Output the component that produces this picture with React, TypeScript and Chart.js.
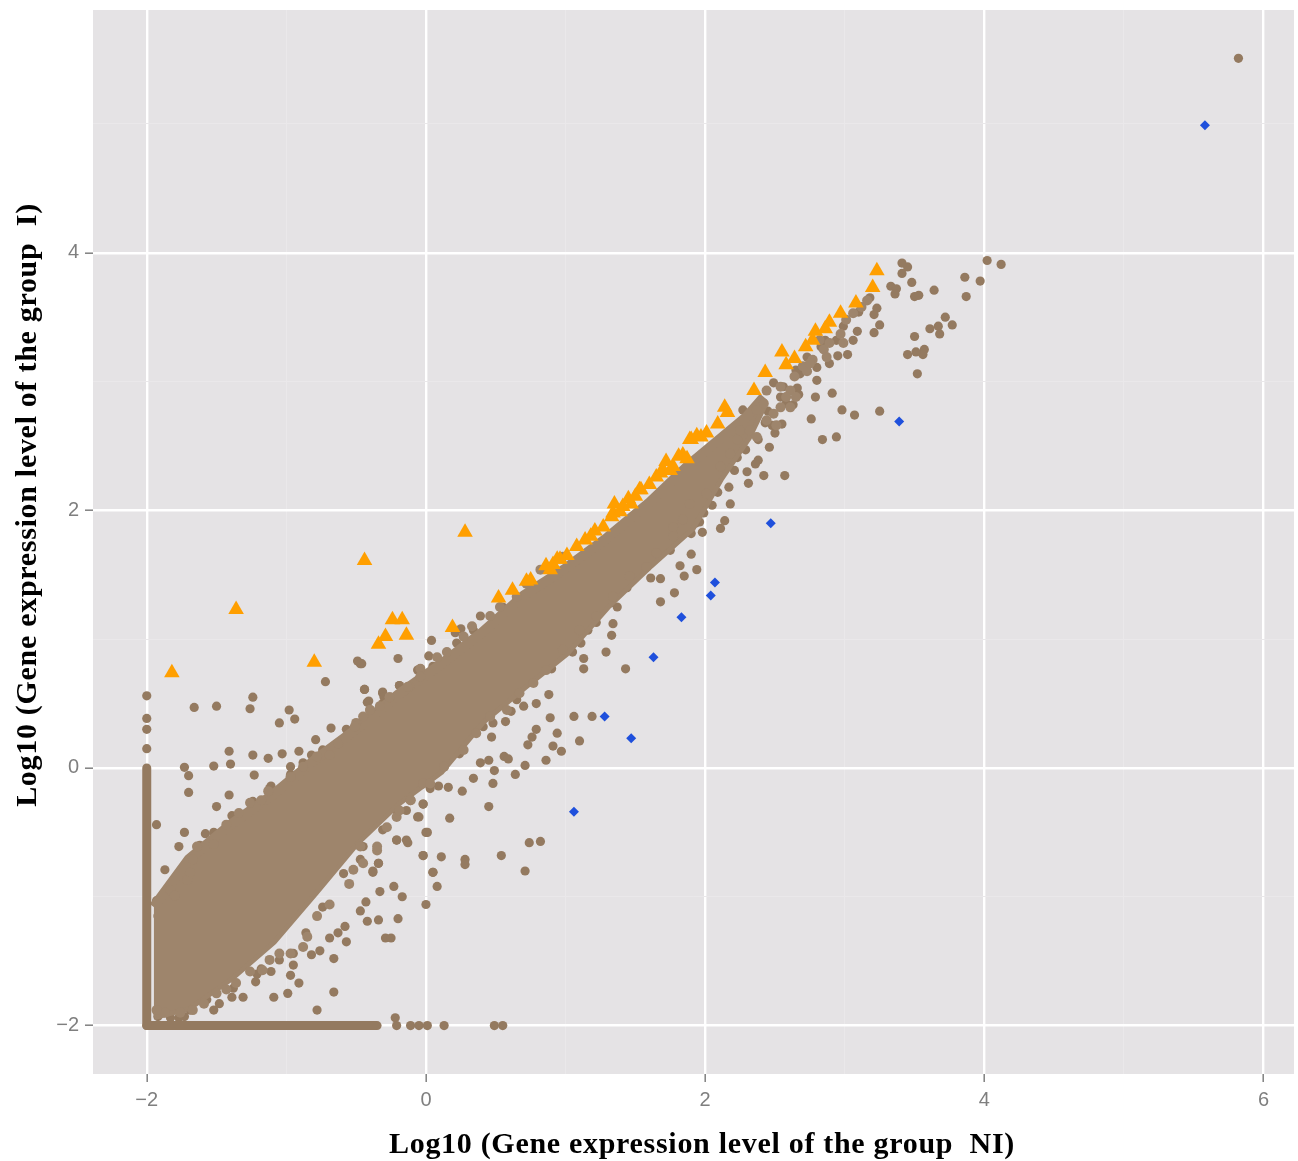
import React, { useEffect, useRef } from "react";
import { Chart, registerables } from "chart.js";

Chart.register(...registerables);

const xTitle = "Log10 (Gene expression level of the group  NI)";
const yTitle = "Log10 (Gene expression level of the group  I)";

// Dense core of the cloud: upper and lower envelope
const cloudX = [-1.95, -1.7, -1.4, -1.1, -0.8, -0.5, -0.2, 0.1, 0.4, 0.7, 1.0, 1.3, 1.6, 1.9, 2.1, 2.3, 2.42];
const cloudUpper = [-1.08, -0.71, -0.44, -0.21, 0.06, 0.3, 0.57, 0.8, 1.05, 1.34, 1.55, 1.79, 2.06, 2.37, 2.55, 2.73, 2.88];
const cloudLower = [-1.92, -1.85, -1.62, -1.34, -0.96, -0.57, -0.26, -0.02, 0.37, 0.64, 0.9, 1.27, 1.58, 1.87, 2.25, 2.57, 2.84];

// Zero-expression strips along the two axes
const stripVX = [-2, -2];
const stripVY = [-2, 0];
const stripHX = [-2, -0.35];
const stripHY = [-2, -2];

const brownX = [
  -2, -2, -2, -2, -1.66, -1.5, -1.24, -1.26, -0.98, -0.94, -1.05, -0.72, -0.44, -0.19, -0.31, -0.47, -0.41,
  -1.41, -1.24, -1.13, -1.03, -0.91, -0.82, -1.4, -1.52, -1.73, -1.7, -1.23, -1.7, -1.41, -1.5, -1.11, -1.24,
  -1.93, -1.73, -1.58, -1.52, -1.39, -1.77, -1.87, -1.77, -1.93, -1.92, -0.68, -0.57, -0.79, -0.97,
  0, -0.02, 0.05, 0.08, -0.23, -0.17, -0.33, 0, -0.2, -0.34, -0.42, -0.47, -0.43, -0.38, -0.34, -0.13, -0.21,
  -0.02, -0.06, -0.29, -0.25, -0.57, -0.63, -0.58, -0.69, -0.76, -0.66, -0.82, -0.95, -0.95, -0.97, -0.91,
  -0.99, -1.09, -0.66, -0.78, -0.22, -1.11, -1.22, -1.31, -1.39, -1.48, -1.52, -1.18, -1.05,
  -0.21, -0.11, -0.05, 0.01, 0.13, 0.49, 0.55,
  0.39, 0.25, 0.21, 0.04, -0.2, -0.49, -0.46, -0.44, -0.31, -0.19, -0.42, -0.04, 0.02,
  1.9, 1.94, 1.82, 1.85, 1.68, 1.61, 1.78, 1.68, 1.37, 1.34, 1.22, 1.33, 1.29, 1.43, 1.05, 1.13, 1.13, 1.11, 1.16,
  0.9, 0.88, 0.79, 0.7, 0.89, 1.06, 1.19, 0.94, 1.1, 0.79, 0.76, 0.73, 0.91, 0.97, 0.86, 0.71, 0.64, 0.56, 0.59,
  0.45, 0.39, 0.49, 0.48, 0.34, 0.26, 0.16, 0.09, 0.45, 0.17, -0.02, -0.05, 0.01, -0.14, -0.21, -0.02, 0.11,
  0.28, 0.28, 0.54, 0.74, 0.82, 0.71, 0.05, -0.34, -0.38, 0.47, 0.48, 0.57, 0.61,
  3.41, 3.45, 3.41, 3.48, 4.02, 4.12, 3.86, 3.97, 3.87, 3.64, 3.33, 3.37, 3.36, 3.5, 3.53, 3.18, 3.1, 3.23, 3.21,
  3.25, 3.21, 3.09, 3.72, 3.77, 3.61, 3.67, 3.68, 3.5, 3.57, 3.56, 3.51, 3.45, 3.52, 3.02, 2.95, 3.06, 2.89, 2.8,
  2.79, 2.91, 2.98, 3.07, 3.25, 2.76, 2.84, 2.94, 2.46, 2.57, 2.42, 2.31, 2.3, 2.21, 2.38, 2.36, 2.29, 2.23,
  2.18, 2.17, 2.09, 2.05, 1.99, 2.14, 2.11, 1.93, 1.96, 1.98, 1.9,
  2.49, 2.56, 2.66, 2.67, 2.58, 2.54, 2.63, 2.45, 2.55, 2.48, 2.5, 2.38, 2.43, 2.27, 2.68, 2.65, 2.73, 2.8,
  2.86, 2.94, 2.99, 2.83, 5.82,
  -1.69, -1.62, -1.38, -1.12, -0.97, -0.88, -0.74, -0.45, -0.31, -0.06, 0.05, -0.45, -0.3, -0.02, 0.22, 0.34, 0.55,
  0.03, -0.14, -0.31, -0.45, -0.47, -0.59, -0.74, -0.86, -1.21, -1.38, -1.57, -1.69, -1.83, -1.77, -1.73, -1.92,
  -0.21, -0.07, 0.24, 0.41, 0.65, 0.84, 1.13, 1.32, 1.44, 1.49, 1.75,
];
const brownY = [
  0.56, 0.385, 0.3, 0.15, 0.47, 0.48, 0.55, 0.46, 0.45, 0.38, 0.35, 0.67, 0.61, 0.64, 0.58, 0.81, 0.52,
  0.13, 0.1, 0.075, 0.11, 0.13, 0.1, 0.03, 0.015, 0.005, -0.06, -0.055, -0.19, -0.21, -0.3, -0.14, -0.26,
  -0.44, -0.5, -0.51, -0.5, -0.37, -0.61, -0.79, -0.86, -1.03, -1.15, 0.31, 0.3, 0.22, 0.01,
  -0.5, -0.68, -0.81, -0.92, -0.92, -1.0, -0.96, -1.06, -1.17, -1.18, -1.19, -1.11, -1.04, -0.81, -0.74, -0.58, -0.56,
  -0.28, -0.38, -1.32, -1.32, -1.35, -1.28, -1.23, -1.32, -1.42, -1.48, -1.45, -1.44, -1.53, -1.61, -1.67,
  -1.75, -1.78, -1.74, -1.88, -1.94, -1.58, -1.66, -1.78, -1.78, -1.83, -1.88, -1.56, -1.49,
  -2, -2, -2, -2, -2, -2, -2,
  1.18, 1.08, 1.05, 0.99, 0.85, 0.83, 0.81, 0.61, 0.59, 0.64, 0.51, 0.77, 0.87,
  1.66, 1.54, 1.57, 1.49, 1.47, 1.475, 1.36, 1.29, 1.25, 1.12, 1.13, 1.03, 0.9, 0.77, 0.9, 0.85, 0.77, 0.97, 1.07,
  0.77, 0.57, 0.5, 0.48, 0.39, 0.4, 0.4, 0.27, 0.21, 0.3, 0.24, 0.18, 0.17, 0.13, 0.06, 0.02, -0.05, 0.09, 0.07,
  0.06, 0.04, -0.02, -0.12, -0.08, -0.18, -0.15, -0.14, -0.3, -0.39, -0.28, -0.38, -0.5, -0.56, -0.56, -0.68, -0.69,
  -0.71, -0.75, -0.68, -0.58, -0.57, -0.8, -0.81, -0.74, -0.8, 0.24, 0.35, 0.36, 0.44,
  3.92, 3.89, 3.84, 3.77, 3.94, 3.91, 3.81, 3.78, 3.66, 3.71, 3.74, 3.72, 3.68, 3.66, 3.67, 3.65, 3.54, 3.57, 3.52,
  3.44, 3.38, 3.39, 3.5, 3.44, 3.41, 3.43, 3.37, 3.35, 3.25, 3.21, 3.23, 3.21, 3.06, 3.21, 3.2, 3.32, 3.14, 3.01,
  2.88, 2.91, 2.78, 2.74, 2.77, 2.71, 2.55, 2.57, 2.49, 2.27, 2.27, 2.21, 2.3, 2.31, 2.39, 2.36, 2.47, 2.41,
  2.05, 2.18, 2.14, 2.04, 1.98, 1.92, 1.86, 1.9, 1.91, 1.83, 1.82,
  2.99, 2.96, 2.95, 2.9, 2.83, 2.88, 2.82, 2.77, 2.67, 2.66, 2.6, 2.55, 2.68, 2.78, 3.06, 3.09, 3.19, 3.11,
  3.32, 3.32, 3.43, 3.27, 5.51,
  -0.71, -0.6, -0.38, -0.16, -0.05, 0.04, 0.14, 0.37, 0.5, 0.76, 0.79, 0.37, 0.55, 0.71, 0.97, 1.07, 1.25,
  -0.16, -0.33, -0.48, -0.61, -0.71, -0.82, -1.08, -1.28, -1.6, -1.71, -1.8, -1.88, -1.94, -1.94, -1.93, -1.93,
  -0.33, -0.15, 0.11, 0.32, 0.53, 0.76, 1.1, 1.28, 1.4, 1.49, 1.69,
];

// Points that make the lumpy edge of the dense band
const edgeX = [
  -1.83, -1.8, -1.71, -1.67, -1.69, -1.64, -1.52, -1.43, -1.34, -1.26, -1.18, -1.13, -0.97, -0.88, -0.78, -0.69, -0.63,
  -0.5, -0.4, -0.26, -0.12, -0.04,
  -0.02, -0.11, -0.21, -0.35, -0.45, -0.52, -0.55, -0.69, -0.78, -0.85, -0.88, -0.97, -1.05, -1.12, -1.17, -1.26, -1.36,
  -1.43, -1.5, -1.59, -1.67, -1.76, -1.87, -1.93,
  -0.51, -0.45, -0.4, -0.33, -0.26, -0.13, -0.04, 0.08, 0.15, 0.27, 0.33, 0.46, 0.53, 0.65, 0.72, 0.82, 0.98,
  -0.47, -0.35, -0.28, -0.19, -0.11, 0.03, 0.13, 0.27, 0.36, 0.46, 0.58, 0.67, 0.77, 0.86, 0.98, 1.1, 1.22, 1.34, 1.46,
  1.58, 1.65, 1.77, 1.84,
  1.77, 1.89, 2.01, 2.11, 2.18, 2.23, 2.32, 2.37, 2.44, 2.25, 2.51, 2.37, 2.42, 2.49, 2.54, 2.61, 2.44, 2.54, 2.61, 2.58,
  2.65, 2.64, 2.73, 2.77, 2.85, 2.89, 2.97, 3.01, 3.06, 3.12, 3.16, 2.7, 2.87, 2.75, 2.99, 2.82,
];
const edgeY = [
  -0.95, -0.99, -0.87, -0.71, -0.81, -0.61, -0.59, -0.44, -0.35, -0.27, -0.25, -0.18, -0.07, 0.01, 0.09, 0.1, 0.19,
  0.35, 0.45, 0.55, 0.63, 0.77,
  -0.12, -0.25, -0.38, -0.64, -0.74, -0.79, -0.9, -1.06, -1.15, -1.31, -1.39, -1.44, -1.44, -1.49, -1.57, -1.58, -1.67,
  -1.72, -1.75, -1.83, -1.88, -1.9, -1.9, -1.88,
  0.32, 0.4, 0.45, 0.48, 0.55, 0.63, 0.71, 0.86, 0.9, 1.02, 1.1, 1.18, 1.25, 1.33, 1.43, 1.54, 1.64,
  -0.61, -0.61, -0.46, -0.33, -0.25, -0.12, 0.01, 0.14, 0.27, 0.4, 0.45, 0.58, 0.66, 0.76, 0.92, 1.07, 1.18, 1.33, 1.49,
  1.56, 1.67, 1.8, 1.93,
  1.87, 2.05, 2.13, 2.34, 2.44, 2.55, 2.62, 2.57, 2.7, 2.62, 2.66, 2.78, 2.83, 2.75, 2.8, 2.8, 2.93, 2.96, 2.93, 2.88,
  2.88, 3.04, 3.08, 3.17, 3.25, 3.3, 3.37, 3.48, 3.53, 3.58, 3.63, 3.12, 3.19, 3.14, 3.3, 3.32,
];

const orangeX = [
  -1.82, -1.36, -0.8, -0.44, 0.28, -0.34, -0.29, -0.24, -0.17, -0.14, 0.19, 0.52, 0.62,
  0.72, 0.75, 0.86, 0.89, 0.91, 0.94, 0.96, 1.01, 1.08, 1.14, 1.18, 1.21, 1.27, 1.33, 1.34, 1.35, 1.39, 1.41, 1.45, 1.47,
  1.5, 1.53, 1.54, 1.6, 1.65, 1.68, 1.7, 1.72, 1.75, 1.77, 1.81, 1.84, 1.87, 1.89, 1.9, 1.94, 1.97, 2.01, 2.09, 2.14, 2.16,
  2.35, 2.43, 2.55, 2.58, 2.64, 2.72, 2.77, 2.79, 2.86, 2.89, 2.97, 3.08, 3.2, 3.23,
];
const orangeY = [
  0.74, 1.23, 0.82, 1.61, 1.83, 0.96, 1.02, 1.15, 1.15, 1.03, 1.09, 1.32, 1.38,
  1.45, 1.46, 1.57, 1.54, 1.58, 1.62, 1.62, 1.65, 1.72, 1.77, 1.8, 1.84, 1.87, 1.95, 1.98, 2.05, 1.99, 2.03, 2.09, 2.05,
  2.11, 2.16, 2.16, 2.2, 2.26, 2.29, 2.31, 2.38, 2.31, 2.34, 2.42, 2.43, 2.4, 2.55, 2.55, 2.58, 2.57, 2.6, 2.67, 2.8, 2.76,
  2.93, 3.07, 3.23, 3.13, 3.18, 3.27, 3.32, 3.39, 3.41, 3.46, 3.53, 3.61, 3.73, 3.86,
];

const blueX = [5.58, 3.39, 2.47, 2.07, 2.04, 1.83, 1.63, 1.28, 1.47, 1.06];
const blueY = [4.99, 2.69, 1.9, 1.44, 1.34, 1.17, 0.86, 0.4, 0.23, -0.34];

const zip = (xs: number[], ys: number[]) => xs.map((x, i) => ({ x, y: ys[i] }));

const COLORS = {
  panel: "#E5E3E5",
  cloud: "#9E856C",
  point: "#947A60",
  orange: "#FF9F00",
  blue: "#1F50DC",
  tick: "#7F7F7F",
};

const panelPlugin = {
  id: "panel",
  beforeDraw(chart: any) {
    const { ctx, chartArea: a } = chart;
    ctx.save();
    ctx.fillStyle = COLORS.panel;
    ctx.fillRect(a.left, a.top, a.right - a.left, a.bottom - a.top);
    ctx.restore();
  },
};

const titlePlugin = {
  id: "axisTitles",
  afterDraw(chart: any) {
    const { ctx } = chart;
    ctx.save();
    ctx.fillStyle = "#000000";
    ctx.font = "bold 30px 'Liberation Serif'";
    ctx.textAlign = "center";
    ctx.textBaseline = "middle";
    ctx.letterSpacing = "0.7px";
    ctx.fillText(xTitle, 702, 1145);
    ctx.translate(28, 505);
    ctx.rotate(-Math.PI / 2);
    ctx.fillText(yTitle, 0, 0);
    ctx.restore();
  },
};

const isMajor = (v: number) => Math.abs(v % 2) < 1e-9;

const clearScalePadding = (s: any) => {
  s.paddingTop = 0;
  s.paddingBottom = 0;
  s.paddingLeft = 0;
  s.paddingRight = 0;
  s._margins = { left: 0, right: 0, top: 0, bottom: 0 };
};

const axis = (min: number, max: number, fit: (s: any) => void) => ({
  type: "linear" as const,
  min,
  max,
  afterFit: (s: any) => {
    fit(s);
    clearScalePadding(s);
  },
  border: { display: false },
  grid: {
    drawOnChartArea: true,
    tickLength: 8,
    color: (c: any) => (isMajor(c.tick.value) ? "#FFFFFF" : "#EAE8EA"),
    lineWidth: (c: any) => (isMajor(c.tick.value) ? 2.4 : 1),
    tickColor: (c: any) => (isMajor(c.tick.value) ? "#808080" : "rgba(0,0,0,0)"),
    tickWidth: 1.5,
  },
  ticks: {
    stepSize: 1,
    includeBounds: false,
    autoSkip: false,
    maxRotation: 0,
    color: COLORS.tick,
    padding: 6,
    font: { family: "'Liberation Sans'", size: 20 },
    callback: (v: any) => (isMajor(Number(v)) ? String(v).replace("-", "\u2212") : ""),
  },
});

export default function App() {
  const ref = useRef<HTMLCanvasElement | null>(null);
  useEffect(() => {
    if (!ref.current) return;
    const chart = new Chart(ref.current, {
      type: "scatter",
      plugins: [panelPlugin, titlePlugin],
      data: {
        datasets: [
          {
            label: "Unchanged",
            data: zip(brownX, brownY),
            order: 6,
            pointRadius: 4.6,
            backgroundColor: COLORS.point,
            borderWidth: 0,
          },
          {
            label: "Cloud upper",
            data: zip(cloudX, cloudUpper),
            order: 5,
            showLine: true,
            fill: "+1",
            pointRadius: 0,
            borderColor: COLORS.cloud,
            backgroundColor: COLORS.cloud,
            borderWidth: 10,
            borderJoinStyle: "round",
          },
          {
            label: "Cloud lower",
            data: zip(cloudX, cloudLower),
            order: 5,
            showLine: true,
            pointRadius: 0,
            borderColor: COLORS.cloud,
            borderWidth: 10,
            borderJoinStyle: "round",
          },
          {
            label: "Strip vertical",
            data: zip(stripVX, stripVY),
            order: 4,
            showLine: true,
            pointRadius: 0,
            borderColor: COLORS.point,
            borderWidth: 9,
            borderCapStyle: "round",
          },
          {
            label: "Strip horizontal",
            data: zip(stripHX, stripHY),
            order: 4,
            showLine: true,
            pointRadius: 0,
            borderColor: COLORS.point,
            borderWidth: 9,
            borderCapStyle: "round",
          },
          {
            label: "Edge",
            data: zip(edgeX, edgeY),
            order: 3,
            pointRadius: 5,
            backgroundColor: COLORS.cloud,
            borderWidth: 0,
          },
          {
            label: "Up",
            data: zip(orangeX, orangeY),
            order: 2,
            pointStyle: "triangle",
            pointRadius: 9,
            backgroundColor: COLORS.orange,
            borderColor: COLORS.orange,
            borderWidth: 0,
          },
          {
            label: "Down",
            data: zip(blueX, blueY),
            order: 1,
            pointStyle: "rectRot",
            pointRadius: 5,
            backgroundColor: COLORS.blue,
            borderWidth: 0,
          },
        ],
      },
      options: {
        animation: false,
        responsive: false,
        layout: { autoPadding: false, padding: { top: 10, right: 4, left: 0, bottom: 0 } },
        plugins: { legend: { display: false }, tooltip: { enabled: false } },
        scales: {
          x: axis(-2.385, 6.218, (s: any) => {
            s.height = 87;
          }),
          y: axis(-2.376, 5.885, (s: any) => {
            s.width = 93;
          }),
        },
      },
    } as any);
    return () => chart.destroy();
  }, []);
  return (
    <div style={{ position: "absolute", left: 0, top: 0, width: 1298, height: 1161, background: "#FFFFFF" }}>
      <canvas ref={ref} width={1298} height={1161} style={{ display: "block" }} />
    </div>
  );
}
